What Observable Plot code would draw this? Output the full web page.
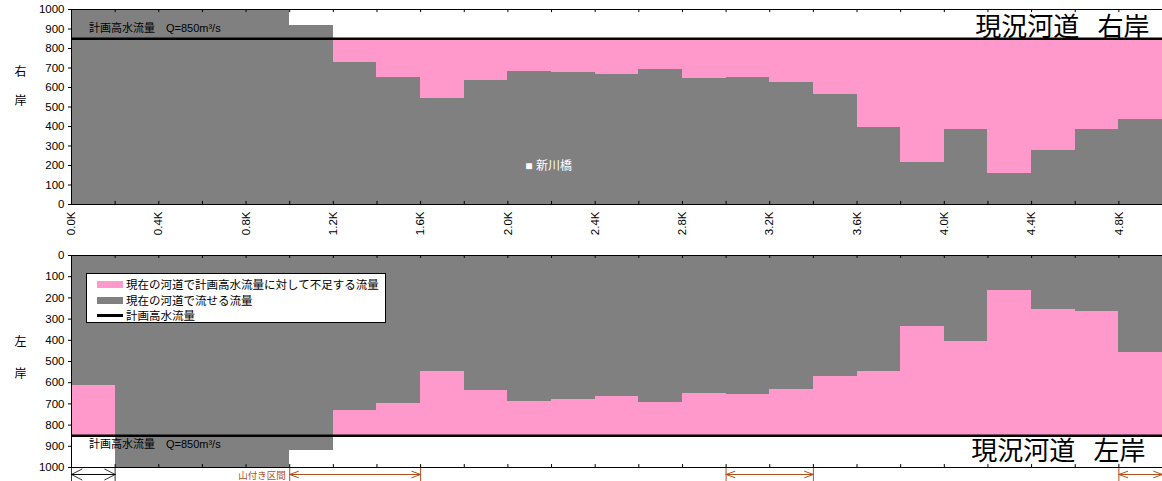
<!DOCTYPE html>
<html><head><meta charset="utf-8">
<script src="https://cdn.jsdelivr.net/npm/d3@7"></script>
<script src="https://cdn.jsdelivr.net/npm/@observablehq/plot@0.6"></script>
<style>
html,body{margin:0;padding:0;background:#fff;overflow:hidden}
#wrap{position:relative;width:1162px;height:481px;font-family:"Liberation Sans","Noto Sans CJK JP",sans-serif}
#wrap svg{display:block;max-width:none}
.legend{position:absolute;left:86px;top:273px;width:300px;height:50px;border:1px solid #000;background:#fff;font-size:11.5px;font-family:"Noto Sans CJK JP",sans-serif;box-sizing:border-box;color:#000}
.row{position:absolute;left:10px;height:16px;display:flex;align-items:center;white-space:nowrap}
.sw{width:26px;height:7px;margin-right:3px}
.ln{width:26px;height:3px;background:#000;margin-right:3px}
</style></head><body><div id="wrap"></div>
<script>
// ---- data ----
const sectionStart = [0.0,0.2,0.4,0.6,0.8,1.0,1.2,1.4,1.6,1.8,2.0,2.2,2.4,2.6,2.8,3.0,3.2,3.4,3.6,3.8,4.0,4.2,4.4,4.6,4.8];
const sectionEnd   = [0.2,0.4,0.6,0.8,1.0,1.2,1.4,1.6,1.8,2.0,2.2,2.4,2.6,2.8,3.0,3.2,3.4,3.6,3.8,4.0,4.2,4.4,4.6,4.8,5.0];
const rightBankCapacity = [1000,1000,1000,1000,1000,918,728,653,544,636,682,677,667,692,646,651,626,564,395,215,385,160,277,385,436];
const leftBankCapacity  = [615,1000,1000,1000,1000,922,731,698,547,637,689,679,665,693,651,656,632,571,547,335,406,165,255,264,458];
const planFlow = 850;
const yTicks = [0,100,200,300,400,500,600,700,800,900,1000];
const xMinorTicks = [0,0.2,0.4,0.6,0.8,1.0,1.2,1.4,1.6,1.8,2.0,2.2,2.4,2.6,2.8,3.0,3.2,3.4,3.6,3.8,4.0,4.2,4.4,4.6,4.8,5.0];
const xLabelTicks = [0,0.4,0.8,1.2,1.6,2.0,2.4,2.8,3.2,3.6,4.0,4.4,4.8];
const planLabel = "計画高水流量　Q=850m³/s";
const rightTitle = "現況河道\u2002\u2009右岸";
const leftTitle = "現況河道\u2002\u2009左岸";
const bridgeName = ["■ 新川橋"];
const bridgeKm = [2.08];
const bridgeQ = [195];
const spanStart = [0.0,1.0,3.0,4.8];
const spanEnd   = [0.2,1.6,3.4,5.0];
const spanKind  = ["river","hill","hill","hill"];
const spanLabel = ["","山付き区間","",""];
const legendLabels = ["現在の河道で計画高水流量に対して不足する流量","現在の河道で流せる流量","計画高水流量"];

// ---- styles ----
const GRAY = "#808080", PINK = "#ff99cc", BROWN = "#b0501c";
const font = "'Liberation Sans','Noto Sans CJK JP',sans-serif";

const right = sectionStart.map((s,i)=>({x1:s, x2:sectionEnd[i], cap:rightBankCapacity[i]}));
const left  = sectionStart.map((s,i)=>({x1:s, x2:sectionEnd[i], cap:leftBankCapacity[i]}));
const spans = spanStart.map((s,i)=>({x1:s, x2:spanEnd[i], kind:spanKind[i], label:spanLabel[i]}));
const bridge = bridgeName.map((n,i)=>({name:n, km:bridgeKm[i], q:bridgeQ[i]}));
const river = spans.filter(d=>d.kind==="river");
const hill = spans.filter(d=>d.kind==="hill");

const common = {width:1162, marginLeft:71, marginRight:0,
  x:{domain:[0,5.0]}, style:{fontFamily:font, fontSize:"11px", color:"#000", background:"#fff"}};

const yAxis = Plot.axisY({ticks:yTicks, tickSize:3, tickPadding:4, tickFormat:d=>String(d), label:null, fontSize:11.5});

const topChart = Plot.plot({
  ...common, height:245, marginTop:9, marginBottom:41,
  y:{domain:[0,1000]},
  marks:[
    Plot.rect(right, {x1:"x1", x2:"x2", y1:0, y2:"cap", fill:GRAY, shapeRendering:"crispEdges"}),
    Plot.rect(right.filter(d=>d.cap<planFlow), {x1:"x1", x2:"x2", y1:"cap", y2:planFlow, fill:PINK, shapeRendering:"crispEdges"}),
    Plot.ruleY([planFlow], {stroke:"#000", strokeWidth:2.5}),
    Plot.ruleX(xMinorTicks, {x:d=>d, y1:0, y2:16, stroke:"#000"}),
    Plot.ruleX(xMinorTicks, {x:d=>d, y1:1000, y2:984, stroke:"#000"}),
    Plot.frame({stroke:"#000"}),
    yAxis,
    Plot.axisX({ticks:xLabelTicks, tickRotate:-90, tickSize:0, tickPadding:7, tickFormat:d=>d.toFixed(1)+"K", label:null, fontSize:11.5}),
    Plot.text([planLabel], {x:0.08, y:905, text:d=>d, textAnchor:"start", fontSize:11, fill:"#000"}),
    Plot.text([rightTitle], {frameAnchor:"top-right", text:d=>d, dx:-13, dy:18, lineAnchor:"middle", textAnchor:"end", fontSize:26, fill:"#000"}),
    Plot.text(["右"], {frameAnchor:"top-left", text:d=>d, dx:-57, dy:63, lineAnchor:"middle", fontSize:12, fill:"#000"}),
    Plot.text(["岸"], {frameAnchor:"top-left", text:d=>d, dx:-57, dy:92, lineAnchor:"middle", fontSize:12, fill:"#000"}),
    Plot.text(bridge, {x:"km", y:"q", text:"name", textAnchor:"start", fill:"#fff", fontSize:12})
  ]
});

const bottomChart = Plot.plot({
  ...common, height:236, marginTop:10, marginBottom:14,
  x:{domain:[0,5.0], axis:null},
  y:{domain:[0,1000], reverse:true},
  marks:[
    Plot.rect(left, {x1:"x1", x2:"x2", y1:0, y2:"cap", fill:GRAY, shapeRendering:"crispEdges"}),
    Plot.rect(left.filter(d=>d.cap<planFlow), {x1:"x1", x2:"x2", y1:"cap", y2:planFlow, fill:PINK, shapeRendering:"crispEdges"}),
    Plot.ruleY([planFlow], {stroke:"#000", strokeWidth:2.5}),
    Plot.ruleX(xMinorTicks, {x:d=>d, y1:1000, y2:986, stroke:"#000"}),
    Plot.ruleX(xMinorTicks, {x:d=>d, y1:0, y2:14, stroke:"#000"}),
    Plot.frame({stroke:"#000"}),
    yAxis,
    Plot.text([planLabel], {x:0.08, y:890, text:d=>d, textAnchor:"start", fontSize:11, fill:"#000"}),
    Plot.text([leftTitle], {frameAnchor:"bottom-right", text:d=>d, dx:-17, dy:-16, lineAnchor:"middle", textAnchor:"end", fontSize:26, fill:"#000"}),
    Plot.text(["左"], {frameAnchor:"top-left", text:d=>d, dx:-57, dy:87, lineAnchor:"middle", fontSize:12, fill:"#000"}),
    Plot.text(["岸"], {frameAnchor:"top-left", text:d=>d, dx:-57, dy:119, lineAnchor:"middle", fontSize:12, fill:"#000"}),
    // span annotations (double-headed arrows)
    Plot.arrow(river, {x1:"x1", x2:"x2", y1:1033, y2:1033, stroke:"#000", strokeWidth:0.8, headLength:22, headAngle:55}),
    Plot.arrow(river, {x1:"x2", x2:"x1", y1:1033, y2:1033, stroke:"#000", strokeWidth:0.8, headLength:22, headAngle:55}),
    Plot.ruleX(river.flatMap(d=>[d.x1,d.x2]), {x:d=>d, y1:1005, y2:1066, stroke:"#000", strokeWidth:0.8}),
    Plot.arrow(hill, {x1:"x1", x2:"x2", y1:1033, y2:1033, stroke:BROWN, strokeWidth:1, headLength:14, headAngle:40}),
    Plot.arrow(hill, {x1:"x2", x2:"x1", y1:1033, y2:1033, stroke:BROWN, strokeWidth:1, headLength:14, headAngle:40}),
    Plot.ruleX(hill.flatMap(d=>[d.x1,d.x2]), {x:d=>d, y1:1005, y2:1066, stroke:BROWN, strokeWidth:1}),
    Plot.text(hill.filter(d=>d.label), {x:"x1", y:1040, text:"label", textAnchor:"end", dx:-4, fill:BROWN, fontSize:9.5})
  ]
});

const wrap = document.getElementById("wrap");
wrap.appendChild(topChart);
wrap.appendChild(bottomChart);

// legend
const lg = document.createElement("div");
lg.className = "legend";
const swatches = [`<span class="sw" style="background:${PINK}"></span>`, `<span class="sw" style="background:${GRAY}"></span>`, `<span class="ln"></span>`];
const rowTops = [2, 18, 33];
lg.innerHTML = legendLabels.map((t,i)=>`<div class="row" style="top:${rowTops[i]}px">${swatches[i]}<span>${t}</span></div>`).join("");
wrap.appendChild(lg);
</script></body></html>
